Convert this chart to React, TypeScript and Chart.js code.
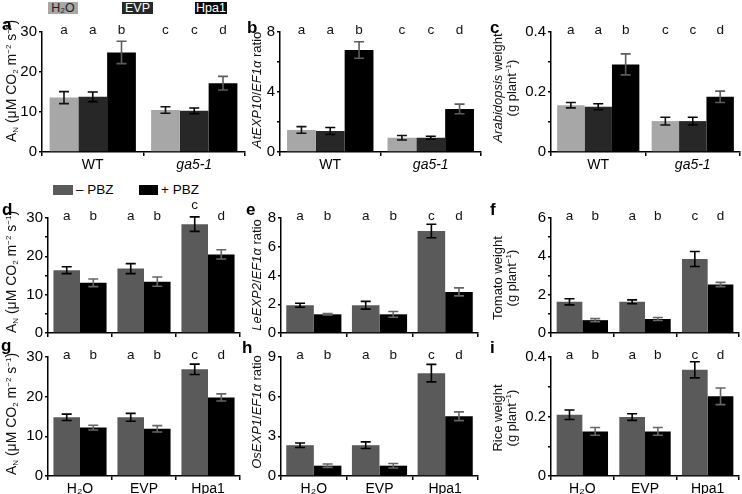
import React, { useEffect, useRef } from 'react';
import { Chart, registerables } from 'chart.js';
Chart.register(...registerables);

const FONT = '"Liberation Sans", Arial, Helvetica, sans-serif';

// ---------- categories ----------
const genotypes = ['WT', 'ga5-1'];
const treatments = ['H\u2082O', 'EVP', 'Hpa1'];

// ---------- panel a: Arabidopsis A_N ----------
const aH2O = [13.6, 10.5];
const aEVP = [13.8, 10.3];
const aHpa1 = [24.9, 17.2];
const aH2OErr = [1.5, 0.8];
const aEVPErr = [1.2, 0.7];
const aHpa1Err = [2.8, 1.7];

// ---------- panel b: AtEXP10/EF1a ----------
const bH2O = [1.47, 0.95];
const bEVP = [1.4, 0.95];
const bHpa1 = [6.8, 2.87];
const bH2OErr = [0.22, 0.15];
const bEVPErr = [0.23, 0.1];
const bHpa1Err = [0.55, 0.32];

// ---------- panel c: Arabidopsis weight ----------
const cH2O = [0.156, 0.103];
const cEVP = [0.151, 0.103];
const cHpa1 = [0.292, 0.184];
const cH2OErr = [0.009, 0.013];
const cEVPErr = [0.01, 0.013];
const cHpa1Err = [0.035, 0.019];

const lettersH2O = ['a', 'c'];
const lettersEVP = ['a', 'c'];
const lettersHpa1 = ['b', 'd'];

// ---------- panel d: tomato A_N ----------
const dMinus = [16.4, 16.8, 28.4];
const dPlus = [13.1, 13.4, 20.5];
const dMinusErr = [0.9, 1.3, 1.9];
const dPlusErr = [1.0, 1.2, 1.2];

// ---------- panel e: LeEXP2/EF1a ----------
const eMinus = [1.93, 1.93, 7.1];
const ePlus = [1.3, 1.3, 2.86];
const eMinusErr = [0.14, 0.27, 0.47];
const ePlusErr = [0.05, 0.2, 0.28];

// ---------- panel f: tomato weight ----------
const fMinus = [1.63, 1.63, 3.86];
const fPlus = [0.67, 0.73, 2.53];
const fMinusErr = [0.16, 0.1, 0.39];
const fPlusErr = [0.08, 0.08, 0.11];

// ---------- panel g: rice A_N ----------
const gMinus = [14.8, 14.8, 26.9];
const gPlus = [12.2, 11.9, 19.8];
const gMinusErr = [0.8, 1.0, 1.3];
const gPlusErr = [0.6, 0.8, 0.9];

// ---------- panel h: OsEXP1/EF1a ----------
const hMinus = [2.33, 2.33, 7.78];
const hPlus = [0.78, 0.78, 4.52];
const hMinusErr = [0.17, 0.25, 0.66];
const hPlusErr = [0.13, 0.17, 0.33];

// ---------- panel i: rice weight ----------
const iMinus = [0.206, 0.198, 0.357];
const iPlus = [0.15, 0.15, 0.268];
const iMinusErr = [0.016, 0.011, 0.027];
const iPlusErr = [0.013, 0.013, 0.028];

const lettersMinus = ['a', 'a', 'c'];
const lettersPlus = ['b', 'b', 'd'];

// ---------- colours ----------
const C_H2O = '#a7a7a7';
const C_EVP = '#272727';
const C_HPA1 = '#000000';
const C_MINUS = '#5a5a5a';
const C_PLUS = '#000000';

type Series = { data: number[]; errors: number[]; letters: string[]; color: string; errColor: string };

const threeSeries = (h: number[], he: number[], e: number[], ee: number[], p: number[], pe: number[]): Series[] => [
  { data: h, errors: he, letters: lettersH2O, color: C_H2O, errColor: '#111' },
  { data: e, errors: ee, letters: lettersEVP, color: C_EVP, errColor: '#000' },
  { data: p, errors: pe, letters: lettersHpa1, color: C_HPA1, errColor: '#5c5c5c' },
];
const pbzSeries = (m: number[], me: number[], p: number[], pe: number[]): Series[] => [
  { data: m, errors: me, letters: lettersMinus, color: C_MINUS, errColor: '#000' },
  { data: p, errors: pe, letters: lettersPlus, color: C_PLUS, errColor: '#666' },
];

const errPlugin = {
  id: 'errLetters',
  afterDatasetsDraw(chart: any) {
    const ctx = chart.ctx;
    const y = chart.scales.y;
    const top = chart.chartArea.top;
    chart.data.datasets.forEach((ds: any, i: number) => {
      const meta = chart.getDatasetMeta(i);
      meta.data.forEach((bar: any, j: number) => {
        const v = ds.data[j];
        const e = ds.errors[j];
        const x = bar.x;
        const yt = y.getPixelForValue(v + e);
        const yb = y.getPixelForValue(v - e);
        ctx.save();
        ctx.strokeStyle = ds.errColor;
        ctx.lineWidth = 1.6;
        ctx.beginPath();
        ctx.moveTo(x, yt);
        ctx.lineTo(x, yb);
        ctx.moveTo(x - 5, yt);
        ctx.lineTo(x + 5, yt);
        ctx.moveTo(x - 5, yb);
        ctx.lineTo(x + 5, yb);
        ctx.stroke();
        const ly = yt < top ? yt - 12 : top - 2;
        ctx.fillStyle = '#111';
        ctx.font = '13.5px ' + FONT;
        ctx.textAlign = 'center';
        ctx.textBaseline = 'middle';
        ctx.fillText(ds.letters[j], x, ly);
        ctx.restore();
      });
    });
  },
};

type PanelProps = {
  x0: number; y0: number; x1: number; y1: number;
  labels: string[]; series: Series[];
  yMax: number; yStep: number; yMajor: number;
  showX: boolean; italicIdx: number; catPct: number;
};

function BarPanel(p: PanelProps) {
  const ref = useRef<HTMLCanvasElement>(null);
  const cl = p.x0 - 34;
  const ct = p.y0 - 24;
  const cr = Math.min(p.x1 + 3, 742);
  const cb = p.y1 + (p.showX ? 22 : 6);
  const w = cr - cl;
  const h = cb - ct;
  useEffect(() => {
    const chart = new Chart(ref.current as HTMLCanvasElement, {
      type: 'bar',
      data: {
        labels: p.labels,
        datasets: p.series.map((s) => ({
          data: s.data,
          errors: s.errors,
          letters: s.letters,
          errColor: s.errColor,
          backgroundColor: s.color,
          borderWidth: 0,
          categoryPercentage: p.catPct,
          barPercentage: 1,
        })) as any,
      },
      options: {
        responsive: false,
        animation: false,
        events: [],
        layout: { padding: { left: 0, top: p.y0 - ct, right: cr - p.x1, bottom: 0 } },
        plugins: { legend: { display: false }, tooltip: { enabled: false } },
        scales: {
          x: {
            grid: { display: true, drawOnChartArea: false, drawTicks: true, tickLength: 4, color: '#000', lineWidth: 1.5, offset: true },
            border: { display: true, color: '#000', width: 1.5 },
            ticks: {
              display: p.showX,
              color: '#000',
              padding: 1,
              maxRotation: 0,
              autoSkip: false,
              font: (c: any) => ({ size: 14, family: FONT, style: c.index === p.italicIdx ? 'italic' : 'normal' }),
            },
            afterFit: (s: any) => { s.height = cb - p.y1; },
          },
          y: {
            min: 0,
            max: p.yMax,
            grid: { display: true, drawOnChartArea: false, drawTicks: true, tickLength: 3, color: '#000', lineWidth: 1.5 },
            border: { display: true, color: '#000', width: 1.5 },
            ticks: {
              stepSize: p.yStep,
              color: '#000',
              padding: 2,
              font: { size: 15, family: FONT },
              callback: (v: any) => {
                const r = v / p.yMajor;
                if (Math.abs(r - Math.round(r)) > 1e-6) return '';
                return String(Math.round(v * 1000) / 1000);
              },
            },
            afterFit: (s: any) => { s.width = p.x0 - cl; },
          },
        },
      } as any,
      plugins: [errPlugin],
    });
    return () => chart.destroy();
  }, []);
  return <canvas ref={ref} width={w} height={h} style={{ position: 'absolute', left: cl, top: ct, width: w, height: h }} />;
}

const subS: React.CSSProperties = { fontSize: '8px', verticalAlign: '-2px', lineHeight: 0 };
const supS: React.CSSProperties = { fontSize: '8px', verticalAlign: '5px', lineHeight: 0 };

function YTitle({ cx, cy, size, children }: { cx: number; cy: number; size: number; children: React.ReactNode }) {
  return (
    <div style={{
      position: 'absolute', left: cx, top: cy, transform: 'translate(-50%, -50%) rotate(-90deg)',
      whiteSpace: 'nowrap', fontFamily: FONT, fontSize: size, lineHeight: '14px', textAlign: 'center', color: '#111',
    }}>{children}</div>
  );
}

const AnTitle = () => (
  <span>A<span style={subS}>N</span> (μM CO<span style={subS}>2</span> m<span style={supS}>−2</span> s<span style={supS}>−1</span>)</span>
);
const WeightUnit = () => (<span>(g plant<span style={supS}>−1</span>)</span>);

function PanelLetter({ x, y, t }: { x: number; y: number; t: string }) {
  return <div style={{ position: 'absolute', left: x, top: y, fontFamily: FONT, fontWeight: 'bold', fontSize: 17, lineHeight: '17px', color: '#000' }}>{t}</div>;
}

function TagBox({ x, w, bg, fg, children }: { x: number; w: number; bg: string; fg: string; children: React.ReactNode }) {
  return (
    <div style={{ position: 'absolute', left: x, top: 2, width: w, height: 12, background: bg, color: fg, fontFamily: FONT, fontSize: 12.5, lineHeight: '12px', textAlign: 'center' }}>{children}</div>
  );
}

export default function App() {
  return (
    <div style={{ position: 'absolute', left: 0, top: 0, width: 742, height: 494, overflow: 'hidden', background: '#fff' }}>
      {/* top legend */}
      <TagBox x={48} w={30} bg={C_H2O} fg="#222">H₂O</TagBox>
      <TagBox x={122} w={31} bg={C_EVP} fg="#fff">EVP</TagBox>
      <TagBox x={195} w={32} bg="#0a0a0a" fg="#fff">Hpa1</TagBox>

      {/* PBZ legend */}
      <div style={{ position: 'absolute', left: 53, top: 185, width: 20, height: 10, background: C_MINUS }} />
      <div style={{ position: 'absolute', left: 76, top: 183, fontFamily: FONT, fontSize: 13.5, lineHeight: '14px' }}>– PBZ</div>
      <div style={{ position: 'absolute', left: 139, top: 185, width: 19, height: 10, background: C_PLUS }} />
      <div style={{ position: 'absolute', left: 161, top: 183, fontFamily: FONT, fontSize: 13.5, lineHeight: '14px' }}>+ PBZ</div>

      {/* row 1 */}
      <BarPanel x0={42} y0={32} x1={245} y1={152} labels={genotypes} series={threeSeries(aH2O, aH2OErr, aEVP, aEVPErr, aHpa1, aHpa1Err)} yMax={30} yStep={5} yMajor={10} showX italicIdx={1} catPct={0.85} />
      <BarPanel x0={280} y0={32} x1={481} y1={152} labels={genotypes} series={threeSeries(bH2O, bH2OErr, bEVP, bEVPErr, bHpa1, bHpa1Err)} yMax={8} yStep={2} yMajor={4} showX italicIdx={1} catPct={0.86} />
      <BarPanel x0={551} y0={32} x1={740} y1={152} labels={genotypes} series={threeSeries(cH2O, cH2OErr, cEVP, cEVPErr, cHpa1, cHpa1Err)} yMax={0.4} yStep={0.1} yMajor={0.2} showX italicIdx={1} catPct={0.87} />

      {/* row 2 */}
      <BarPanel x0={48} y0={218} x1={240} y1={338} labels={treatments} series={pbzSeries(dMinus, dMinusErr, dPlus, dPlusErr)} yMax={30} yStep={5} yMajor={10} showX={false} italicIdx={-1} catPct={0.83} />
      <BarPanel x0={281} y0={218} x1={478} y1={338} labels={treatments} series={pbzSeries(eMinus, eMinusErr, ePlus, ePlusErr)} yMax={8} yStep={1} yMajor={2} showX={false} italicIdx={-1} catPct={0.84} />
      <BarPanel x0={551} y0={218} x1={739} y1={338} labels={treatments} series={pbzSeries(fMinus, fMinusErr, fPlus, fPlusErr)} yMax={6} yStep={1} yMajor={2} showX={false} italicIdx={-1} catPct={0.82} />

      {/* row 3 */}
      <BarPanel x0={48} y0={357} x1={240} y1={476} labels={treatments} series={pbzSeries(gMinus, gMinusErr, gPlus, gPlusErr)} yMax={30} yStep={5} yMajor={10} showX italicIdx={-1} catPct={0.83} />
      <BarPanel x0={281} y0={357} x1={478} y1={476} labels={treatments} series={pbzSeries(hMinus, hMinusErr, hPlus, hPlusErr)} yMax={9} yStep={1.5} yMajor={3} showX italicIdx={-1} catPct={0.84} />
      <BarPanel x0={551} y0={357} x1={739} y1={476} labels={treatments} series={pbzSeries(iMinus, iMinusErr, iPlus, iPlusErr)} yMax={0.4} yStep={0.1} yMajor={0.2} showX italicIdx={-1} catPct={0.82} />

      {/* y titles */}
      <YTitle cx={11} cy={81} size={14}><AnTitle /></YTitle>
      <YTitle cx={11} cy={272} size={14}><AnTitle /></YTitle>
      <YTitle cx={11} cy={414} size={14}><AnTitle /></YTitle>
      <YTitle cx={257} cy={90} size={13}><i>AtEXP10</i>/<i>EF1α</i> ratio</YTitle>
      <YTitle cx={257} cy={275} size={13}><i>LeEXP2</i>/<i>EF1α</i> ratio</YTitle>
      <YTitle cx={257} cy={412} size={13}><i>OsEXP1</i>/<i>EF1α</i> ratio</YTitle>
      <YTitle cx={505} cy={88} size={13}><div><i>Arabidopsis</i> weight</div><div><WeightUnit /></div></YTitle>
      <YTitle cx={505} cy={278} size={13}><div>Tomato weight</div><div><WeightUnit /></div></YTitle>
      <YTitle cx={505} cy={418} size={13}><div>Rice weight</div><div><WeightUnit /></div></YTitle>

      {/* panel letters */}
      <PanelLetter x={2} y={16} t="a" />
      <PanelLetter x={247} y={19} t="b" />
      <PanelLetter x={490} y={19} t="c" />
      <PanelLetter x={2} y={201} t="d" />
      <PanelLetter x={246} y={201} t="e" />
      <PanelLetter x={490} y={201} t="f" />
      <PanelLetter x={1} y={337} t="g" />
      <PanelLetter x={242} y={339} t="h" />
      <PanelLetter x={490} y={339} t="i" />
    </div>
  );
}
